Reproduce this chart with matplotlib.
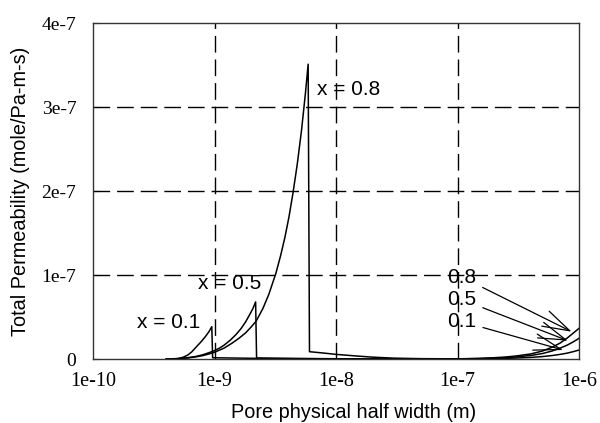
import matplotlib
matplotlib.use("Agg")
import matplotlib.pyplot as plt
import numpy as np

# ---- data (values in units of 1e-7 mole/Pa-m-s) ----
w_08 = [4e-10, 5e-10, 6e-10, 7e-10, 8e-10, 9e-10, 1e-9, 1.2e-9, 1.4e-9, 1.6e-9, 1.8e-9, 2e-9, 2.2e-9,
        2.5e-9, 2.8e-9, 3.2e-9, 3.5e-9, 3.8e-9, 4.1e-9, 4.43e-9, 4.8e-9, 5.2e-9, 5.6e-9, 5.9e-9,
        6.05e-9, 8e-9, 1e-8, 1.5e-8, 2e-8, 3e-8, 5e-8, 1e-7, 1.5e-7, 2e-7, 2.5e-7, 3e-7, 4e-7, 5e-7,
        6e-7, 7e-7, 8e-7, 9e-7, 1e-6]
v_08 = [0.0, 0.003, 0.012, 0.025, 0.04, 0.06, 0.08, 0.13, 0.19, 0.25, 0.31, 0.38, 0.45,
        0.6, 0.77, 1.02, 1.23, 1.45, 1.69, 1.98, 2.32, 2.72, 3.16, 3.51,
        0.087, 0.07, 0.055, 0.035, 0.022, 0.01, 0.004, 0.002, 0.007, 0.015, 0.024, 0.035, 0.06, 0.095,
        0.14, 0.19, 0.25, 0.31, 0.365]

w_05 = [4e-10, 5e-10, 6e-10, 7e-10, 8e-10, 9e-10, 1e-9, 1.1e-9, 1.2e-9, 1.35e-9, 1.5e-9, 1.65e-9,
        1.8e-9, 1.95e-9, 2.07e-9, 2.18e-9,
        2.22e-9, 5e-9, 1e-8, 1e-7, 1.5e-7, 2e-7, 2.5e-7, 3e-7, 4e-7, 5e-7, 6e-7, 7e-7, 8e-7, 9e-7, 1e-6]
v_05 = [0.0, 0.005, 0.015, 0.03, 0.05, 0.075, 0.1, 0.13, 0.165, 0.225, 0.29, 0.36,
        0.44, 0.53, 0.6, 0.68,
        0.012, 0.006, 0.003, 0.001, 0.005, 0.01, 0.016, 0.024, 0.042, 0.065, 0.095, 0.13, 0.165, 0.205, 0.246]

w_01 = [4.5e-10, 5e-10, 5.5e-10, 6e-10, 6.5e-10, 7.1e-10, 7.7e-10, 8.4e-10, 9e-10, 9.5e-10,
        9.65e-10, 3e-9, 1e-8, 1e-7, 1.5e-7, 2e-7, 2.5e-7, 3e-7, 4e-7, 5e-7, 6e-7, 7e-7, 8e-7, 9e-7, 1e-6]
v_01 = [0.0, 0.005, 0.02, 0.045, 0.085, 0.146, 0.2, 0.265, 0.325, 0.385,
        0.015, 0.005, 0.002, 0.0, 0.002, 0.005, 0.008, 0.011, 0.019, 0.029, 0.041, 0.055, 0.07, 0.088, 0.107]

scale = 1e-7

x_ticks = [1e-10, 1e-9, 1e-8, 1e-7, 1e-6]
x_tick_labels = ["1e-10", "1e-9", "1e-8", "1e-7", "1e-6"]
y_ticks = [0, 1e-7, 2e-7, 3e-7, 4e-7]
y_tick_labels = ["0", "1e-7", "2e-7", "3e-7", "4e-7"]

fig = plt.figure(figsize=(6.0, 4.23), dpi=100)
ax = fig.add_axes([93/600, 64/423, 486/600, 336/423])

for w, v in [(w_08, v_08), (w_05, v_05), (w_01, v_01)]:
    ax.plot(w, np.array(v) * scale, color="black", lw=1.1)

ax.set_xscale("log")
ax.set_xlim(1e-10, 1e-6)
ax.set_ylim(0, 4e-7)
ax.minorticks_off()
ax.set_xticks(x_ticks)
ax.set_xticklabels(x_tick_labels, family="Liberation Serif", fontsize=14.5)
ax.set_yticks(y_ticks)
ax.set_yticklabels(y_tick_labels, family="Liberation Serif", fontsize=14)
ax.tick_params(axis="y", direction="in", length=4, pad=12)
ax.tick_params(axis="x", direction="in", length=0, pad=9)

for xv in x_ticks[1:-1]:
    ax.axvline(xv, color="black", lw=1.0, ls=(0, (12, 5)))
for yv in y_ticks[1:-1]:
    ax.axhline(yv, color="black", lw=1.0, ls=(0, (12, 5)))

for s in ax.spines.values():
    s.set_linewidth(1.0)
    s.set_color("#333333")

ax.set_xlabel("Pore physical half width (m)", family="Liberation Sans", fontsize=14.3, labelpad=7)
ax.xaxis.set_label_coords(0.537, -0.13)
ax.set_ylabel("Total Permeability (mole/Pa-m-s)", family="Liberation Sans", fontsize=14.3, labelpad=8)

tf = dict(family="Liberation Sans", fontsize=15, va="center", ha="left")
ax.text(6.98e-9, 3.21e-7, "x = 0.8", **tf)
ax.text(7.3e-10, 0.90e-7, "x = 0.5", **tf)
ax.text(2.3e-10, 0.435e-7, "x = 0.1", **tf)

arrow = dict(arrowstyle="->,head_length=1.3,head_width=0.4", color="black", lw=0.9, shrinkA=3, shrinkB=0)
ax.annotate("0.8", xy=(8.7e-7, 0.325e-7), xytext=(8.2e-8, 0.976e-7), arrowprops=arrow,
            family="Liberation Sans", fontsize=15, va="center", ha="left")
ax.annotate("0.5", xy=(8.1e-7, 0.218e-7), xytext=(8.2e-8, 0.708e-7), arrowprops=arrow,
            family="Liberation Sans", fontsize=15, va="center", ha="left")
ax.annotate("0.1", xy=(7.4e-7, 0.107e-7), xytext=(8.2e-8, 0.446e-7), arrowprops=arrow,
            family="Liberation Sans", fontsize=15, va="center", ha="left")

fig.savefig("out.png", dpi=100)
